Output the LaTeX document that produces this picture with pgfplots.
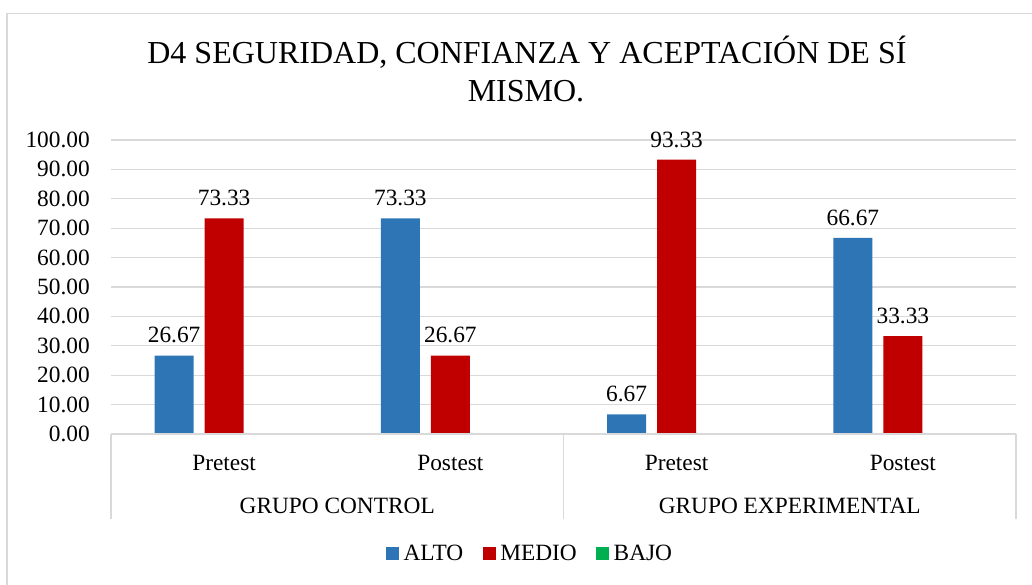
\documentclass[border=0pt]{standalone}
\usepackage{pgfplots}
\pgfplotsset{compat=1.18}
\usepackage{fontspec}
\setmainfont{Liberation Serif}
\definecolor{cAlto}{HTML}{2E75B6}
\definecolor{cMedio}{HTML}{C00000}
\definecolor{cBajo}{HTML}{00B050}
\definecolor{cGrid}{HTML}{D9D9D9}
\begin{document}
\begin{tikzpicture}
\useasboundingbox (0pt,0pt) rectangle (774pt,-438.75pt);
\draw[cGrid, line width=1.1pt] (5.25pt,-500pt) -- (5.25pt,-10.25pt) -- (800pt,-10.25pt);
\node[anchor=base, inner sep=0pt, font=\fontsize{24}{28}\selectfont] at (395.25pt,-48pt) {D4 SEGURIDAD, CONFIANZA Y ACEPTACIÓN DE SÍ};
\node[anchor=base, inner sep=0pt, font=\fontsize{24}{28}\selectfont] at (394.5pt,-76.5pt) {MISMO.};
\begin{axis}[
  at={(83.25pt,-325.5pt)}, anchor=south west,
  scale only axis, width=678.75pt, height=220.5pt,
  ybar=8.25pt, bar width=29.25pt,
  xmin=-0.5, xmax=3.5, ymin=0, ymax=100,
  xtick={0,1,2,3}, xticklabels={Pretest,Postest,Pretest,Postest},
  ytick={0,10,...,100},
  major tick length=0pt,
  axis line style={draw=none},
  ymajorgrids, grid style={cGrid, line width=0.8pt},
  /pgf/number format/assume math mode=true,
  yticklabel={\pgfmathprintnumber[fixed,fixed zerofill,precision=2]{\tick}},
  yticklabel style={anchor=east, inner sep=0pt, xshift=-15.75pt},
  xticklabel style={anchor=base, inner sep=0pt, yshift=-27pt},
  tick label style={font=\fontsize{17.5}{21}\selectfont},
  clip=false,
  legend style={at={(rel axis cs:0.463,-0.408)}, anchor=center, draw=none, fill=none,
    legend columns=3, font=\fontsize{17.5}{21}\selectfont,
    /tikz/every odd column/.append style={column sep=2pt},
    /tikz/every even column/.append style={column sep=13pt},
    nodes={inner sep=1.5pt}},
  legend image code/.code={\fill[#1] (0pt,-4.875pt) rectangle (9.75pt,4.875pt);},
  every node near coord/.append style={font=\fontsize{17.5}{21}\selectfont, anchor=south, inner sep=0pt, yshift=9pt, text=black},
  nodes near coords style={/pgf/number format/.cd, fixed, fixed zerofill, precision=2, assume math mode=true},
]
\addplot[fill=cAlto, draw=none, nodes near coords] coordinates {(0,26.67) (1,73.33) (2,6.67) (3,66.67)};
\addplot[fill=cMedio, draw=none, nodes near coords] coordinates {(0,73.33) (1,26.67) (2,93.33) (3,33.33)};
\addplot[fill=cBajo, draw=none] coordinates {(0,0) (1,0) (2,0) (3,0)};
\legend{ALTO,MEDIO,BAJO}
\draw[cGrid, line width=0.8pt] (axis cs:-0.5,0) -- (axis cs:3.5,0);
\draw[cGrid, line width=0.8pt] (axis cs:-0.5,0) -- ++(0pt,-63.75pt);
\draw[cGrid, line width=0.8pt] (axis cs:1.5,0) -- ++(0pt,-63.75pt);
\draw[cGrid, line width=0.8pt] (axis cs:3.5,0) -- ++(0pt,-63.75pt);
\node[anchor=base, inner sep=0pt, font=\fontsize{17.5}{21}\selectfont] at (axis cs:0.5,0) [yshift=-59.25pt] {GRUPO CONTROL};
\node[anchor=base, inner sep=0pt, font=\fontsize{17.5}{21}\selectfont] at (axis cs:2.5,0) [yshift=-59.25pt] {GRUPO EXPERIMENTAL};
\end{axis}
\end{tikzpicture}
\end{document}
